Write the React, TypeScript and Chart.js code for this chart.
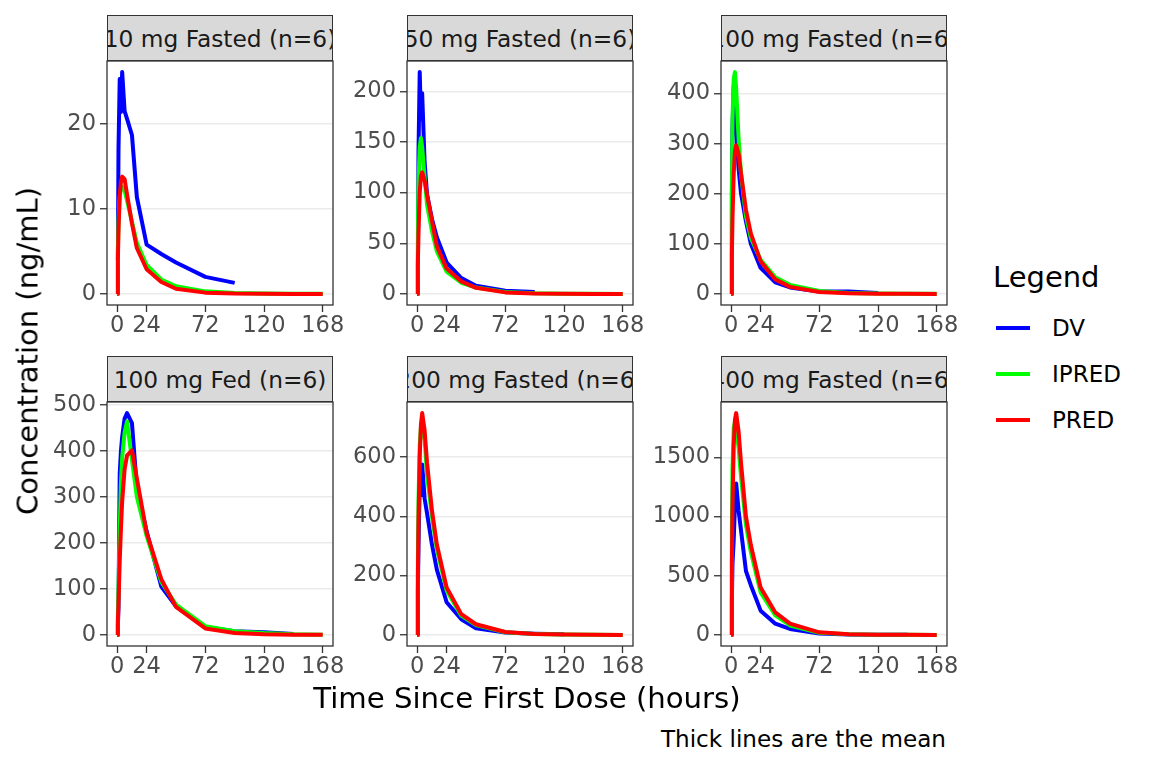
import React, { useEffect, useRef } from 'react';
import { Chart, registerables } from 'chart.js';

Chart.register(...registerables);

const FONT = '"DejaVu Sans", Verdana, sans-serif';

// sampling times (hours) shared by every panel
const times = [0, 0.5, 1, 2, 3, 4, 6, 8, 12, 16, 24, 36, 48, 72, 96, 120, 144, 168];
const xTicks = [0, 24, 72, 120, 168];

const panelTitles = [
    '10 mg Fasted (n=6)',
    '50 mg Fasted (n=6)',
    '100 mg Fasted (n=6)',
    '100 mg Fed (n=6)',
    '200 mg Fasted (n=6)',
    '400 mg Fasted (n=6)',
];

const yTicks10 = [0, 10, 20];
const yTicks50 = [0, 50, 100, 150, 200];
const yTicks100 = [0, 100, 200, 300, 400];
const yTicksFed = [0, 100, 200, 300, 400, 500];
const yTicks200 = [0, 200, 400, 600];
const yTicks400 = [0, 500, 1000, 1500];

// mean observed (DV), individual (IPRED) and population (PRED) predictions
const dv10 = [null, 4, 17, 25.3, 21.4, 26.1, 21.5, 20.6, 18.7, 11.4, 5.8, 4.7, 3.7, 2.0, 1.3, null, null, null];
const ipred10 = [0, 5, 8.5, 11.5, 12.3, 12.6, 12.2, 11.0, 8.5, 6.0, 3.4, 1.7, 0.9, 0.3, 0.1, 0.04, 0.02, 0.01];
const pred10 = [0, 4, 7.5, 11.5, 13.2, 13.8, 13.5, 11.7, 8.3, 5.4, 2.9, 1.4, 0.6, 0.15, 0.04, 0.01, 0.003, 0.001];

const dv50 = [0, 30, 140, 219, 173, 198, 130, 98, 74, 56, 31, 15.6, 8.1, 3.2, 2.0, null, null, null];
const ipred50 = [0, 60, 110, 145, 154, 145, 115, 88, 62, 42, 22, 11, 6.3, 2, 0.7, 0.25, 0.1, 0.03];
const pred50 = [0, 30, 60, 100, 116, 120, 112, 98, 72, 47, 25, 12.3, 6, 1.5, 0.4, 0.1, 0.03, 0.01];

const dv100 = [0, 200, 330, 415, 400, 330, 250, 200, 145, 100, 52, 23, 13, 5, 5, 2, null, null];
const ipred100 = [0, 200, 350, 430, 443, 410, 310, 240, 155, 112, 68, 33, 18, 6, 2, 0.8, 0.3, 0.1];
const pred100 = [0, 80, 150, 240, 285, 297, 280, 240, 168, 121, 65, 29, 14, 4, 1.2, 0.4, 0.1, 0.04];

const dvFed = [0, 20, 60, 350, 400, 430, 470, 482, 460, 320, 225, 105, 62, 17, 8, 6, 2, null];
const ipredFed = [0, 40, 100, 230, 330, 385, 440, 464, 380, 300, 215, 115, 66, 19, 8, 4, 1.5, 0.6];
const predFed = [0, 30, 70, 160, 230, 290, 360, 390, 401, 340, 222, 121, 61, 14, 4, 1.2, 0.4, 0.1];

const dv200 = [0, 150, 300, 500, 470, 575, 460, 410, 305, 220, 110, 53, 22, 8, 4, 2, null, null];
const ipred200 = [0, 250, 450, 640, 700, 690, 660, 540, 400, 290, 150, 65, 33, 9, 3, 1, 0.3, 0.1];
const pred200 = [0, 200, 380, 600, 710, 748, 690, 580, 420, 305, 160, 70, 36, 10, 3, 1, 0.3, 0.1];

const dv400 = [0, 300, 600, 800, 1100, 1280, 1050, 880, 540, 420, 205, 95, 50, 12, 4, 2, 1, null];
const ipred400 = [0, 900, 1400, 1750, 1800, 1760, 1580, 1330, 930, 700, 360, 165, 80, 18, 5, 1.5, 0.5, 0.15];
const pred400 = [0, 600, 1100, 1600, 1820, 1875, 1720, 1450, 1000, 760, 400, 190, 95, 22, 6, 2, 0.6, 0.2];

const COL_LEFT = [107, 407, 721];
const ROW_TOP = [61, 402];
const PLOT_W = 226;
const PLOT_H = 244;
const STRIP_H = 46;
const Y_AXIS_W = 100;
const X_AXIS_H = 50;
const PAD_TOP = 10;
const PAD_RIGHT = 30;

const borderPlugin = {
    id: 'panelBorder',
    afterDraw(chart: any) {
        const { ctx, chartArea: a } = chart;
        ctx.save();
        ctx.strokeStyle = '#333333';
        ctx.lineWidth = 1.3;
        ctx.strokeRect(a.left, a.top, a.right - a.left, a.bottom - a.top);
        ctx.restore();
    },
};

const toPoints = (vals: (number | null)[]) =>
    times.map((t, i) => ({ x: t, y: vals[i] })).filter((p) => p.y !== null);

interface PanelProps {
    left: number;
    top: number;
    title: string;
    yTicks: number[];
    dv: (number | null)[];
    ipred: number[];
    pred: number[];
}

const Panel: React.FC<PanelProps> = ({ left, top, title, yTicks, dv, ipred, pred }) => {
    const canvasRef = useRef<HTMLCanvasElement | null>(null);

    useEffect(() => {
        if (!canvasRef.current) return;
        const all = [...dv, ...ipred, ...pred].filter((v) => v !== null) as number[];
        const lo = Math.min(...all);
        const hi = Math.max(...all);
        const pad = (hi - lo) * 0.05;
        const fixScale = (h: number | null, w: number | null) => (scale: any) => {
            if (w !== null) scale.width = w;
            if (h !== null) scale.height = h;
            scale.paddingLeft = 0;
            scale.paddingRight = 0;
            scale.paddingTop = 0;
            scale.paddingBottom = 0;
        };
        const line = (color: string, order: number, vals: (number | null)[], label: string) => ({
            label,
            data: toPoints(vals),
            borderColor: color,
            backgroundColor: color,
            borderWidth: 4,
            pointRadius: 0,
            tension: 0,
            fill: false,
            order,
            borderJoinStyle: 'round' as const,
        });
        const chart = new Chart(canvasRef.current, {
            type: 'line',
            data: {
                datasets: [
                    line('#0000FF', 3, dv, 'DV'),
                    line('#00FF00', 2, ipred, 'IPRED'),
                    line('#FF0000', 1, pred, 'PRED'),
                ],
            },
            options: {
                animation: false,
                responsive: false,
                events: [],
                layout: { padding: { left: 0, right: PAD_RIGHT, top: PAD_TOP, bottom: 0 } },
                plugins: { legend: { display: false }, tooltip: { enabled: false } },
                scales: {
                    x: {
                        type: 'linear',
                        min: -8.4,
                        max: 176.4,
                        afterBuildTicks: (axis: any) => {
                            axis.ticks = xTicks.map((value) => ({ value }));
                        },
                        afterFit: fixScale(X_AXIS_H, null),
                        grid: {
                            drawOnChartArea: false,
                            drawTicks: true,
                            tickLength: 7,
                            tickColor: '#333333',
                            tickWidth: 1.3,
                        },
                        border: { display: false },
                        ticks: {
                            autoSkip: false,
                            maxRotation: 0,
                            padding: 1,
                            color: '#4D4D4D',
                            font: { family: FONT, size: 22.5 },
                            callback: (v: any) => String(v),
                        },
                    },
                    y: {
                        type: 'linear',
                        min: lo - pad,
                        max: hi + pad,
                        afterBuildTicks: (axis: any) => {
                            axis.ticks = yTicks.map((value) => ({ value }));
                        },
                        afterFit: fixScale(null, Y_AXIS_W),
                        grid: {
                            color: '#EBEBEB',
                            lineWidth: 1.5,
                            drawTicks: true,
                            tickLength: 7,
                            tickColor: '#333333',
                            tickWidth: 1.3,
                        },
                        border: { display: false },
                        ticks: {
                            padding: 4,
                            color: '#4D4D4D',
                            font: { family: FONT, size: 22.5 },
                            callback: (v: any) => String(v),
                        },
                    },
                },
            },
            plugins: [borderPlugin],
        });
        return () => {
            chart.destroy();
        };
    }, [dv, ipred, pred, yTicks]);

    const cw = Y_AXIS_W + PLOT_W + PAD_RIGHT;
    const ch = PAD_TOP + PLOT_H + X_AXIS_H;

    return (
        <>
            <canvas
                ref={canvasRef}
                width={cw}
                height={ch}
                style={{ position: 'absolute', left: left - Y_AXIS_W, top: top - PAD_TOP, width: cw, height: ch }}
            />
            <div
                style={{
                    position: 'absolute',
                    left,
                    top: top - STRIP_H,
                    width: PLOT_W,
                    height: STRIP_H,
                    boxSizing: 'border-box',
                    background: '#D9D9D9',
                    border: '1.3px solid #333333',
                    overflow: 'hidden',
                    display: 'flex',
                    alignItems: 'center',
                    justifyContent: 'center',
                    whiteSpace: 'nowrap',
                    fontFamily: FONT,
                    fontSize: 23.3,
                    color: '#1A1A1A',
                }}
            >
                <span style={{ flexShrink: 0 }}>{title}</span>
            </div>
        </>
    );
};

const Text: React.FC<{ x: number; y: number; size: number; align?: 'left' | 'center' | 'right'; children: React.ReactNode }> = ({
    x,
    y,
    size,
    align = 'left',
    children,
}) => {
    const tx = align === 'left' ? '0' : align === 'center' ? '-50%' : '-100%';
    return (
        <div
            style={{
                position: 'absolute',
                left: x,
                top: y,
                transform: `translate(${tx}, -50%)`,
                fontFamily: FONT,
                fontSize: size,
                lineHeight: 1,
                whiteSpace: 'nowrap',
                color: '#000000',
            }}
        >
            {children}
        </div>
    );
};

const legendItems = [
    { label: 'DV', color: '#0000FF' },
    { label: 'IPRED', color: '#00FF00' },
    { label: 'PRED', color: '#FF0000' },
];

const App: React.FC = () => {
    const panels = [
        { title: panelTitles[0], yTicks: yTicks10, dv: dv10, ipred: ipred10, pred: pred10 },
        { title: panelTitles[1], yTicks: yTicks50, dv: dv50, ipred: ipred50, pred: pred50 },
        { title: panelTitles[2], yTicks: yTicks100, dv: dv100, ipred: ipred100, pred: pred100 },
        { title: panelTitles[3], yTicks: yTicksFed, dv: dvFed, ipred: ipredFed, pred: predFed },
        { title: panelTitles[4], yTicks: yTicks200, dv: dv200, ipred: ipred200, pred: pred200 },
        { title: panelTitles[5], yTicks: yTicks400, dv: dv400, ipred: ipred400, pred: pred400 },
    ];

    return (
        <div
            style={{
                position: 'absolute',
                left: 0,
                top: 0,
                width: 1152,
                height: 768,
                background: '#FFFFFF',
                overflow: 'hidden',
            }}
        >
            {panels.map((p, i) => (
                <Panel
                    key={p.title}
                    left={COL_LEFT[i % 3]}
                    top={ROW_TOP[Math.floor(i / 3)]}
                    title={p.title}
                    yTicks={p.yTicks}
                    dv={p.dv}
                    ipred={p.ipred}
                    pred={p.pred}
                />
            ))}
            <div
                style={{
                    position: 'absolute',
                    left: 28,
                    top: 351,
                    transform: 'translate(-50%, -50%) rotate(-90deg)',
                    fontFamily: FONT,
                    fontSize: 29,
                    lineHeight: 1,
                    whiteSpace: 'nowrap',
                    color: '#000000',
                }}
            >
                Concentration (ng/mL)
            </div>
            <Text x={527} y={699} size={29.2} align="center">
                Time Since First Dose (hours)
            </Text>
            <Text x={946} y={740} size={23.1} align="right">
                Thick lines are the mean
            </Text>
            <Text x={993} y={277} size={29}>
                Legend
            </Text>
            {legendItems.map((item, i) => (
                <React.Fragment key={item.label}>
                    <div
                        style={{
                            position: 'absolute',
                            left: 996,
                            top: 328 + i * 46 - 2,
                            width: 34,
                            height: 4,
                            background: item.color,
                        }}
                    />
                    <Text x={1052} y={328 + i * 46} size={23}>
                        {item.label}
                    </Text>
                </React.Fragment>
            ))}
        </div>
    );
};

export default App;
